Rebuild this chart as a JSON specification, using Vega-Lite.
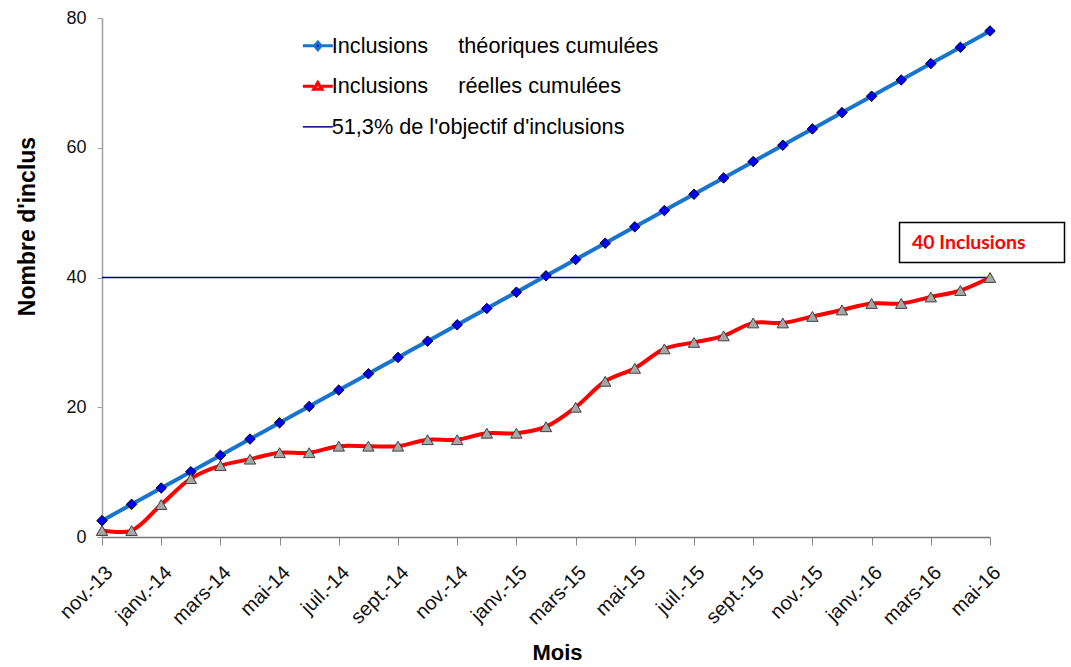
{
  "$schema": "https://vega.github.io/schema/vega-lite/v6.json",
  "width": 888,
  "height": 519,
  "autosize": {"type": "none"},
  "padding": {"left": 102, "top": 18, "right": 81, "bottom": 130},
  "background": "white",
  "config": {"view": {"stroke": null}, "font": "Liberation Sans"},
  "datasets": {
    "series": [
      {"mois": "nov.-13", "serie": "theo", "valeur": 2.52},
      {"mois": "déc.-13", "serie": "theo", "valeur": 5.03},
      {"mois": "janv.-14", "serie": "theo", "valeur": 7.55},
      {"mois": "févr.-14", "serie": "theo", "valeur": 10.06},
      {"mois": "mars-14", "serie": "theo", "valeur": 12.58},
      {"mois": "avr.-14", "serie": "theo", "valeur": 15.10},
      {"mois": "mai-14", "serie": "theo", "valeur": 17.61},
      {"mois": "juin-14", "serie": "theo", "valeur": 20.13},
      {"mois": "juil.-14", "serie": "theo", "valeur": 22.65},
      {"mois": "août-14", "serie": "theo", "valeur": 25.16},
      {"mois": "sept.-14", "serie": "theo", "valeur": 27.68},
      {"mois": "oct.-14", "serie": "theo", "valeur": 30.19},
      {"mois": "nov.-14", "serie": "theo", "valeur": 32.71},
      {"mois": "déc.-14", "serie": "theo", "valeur": 35.23},
      {"mois": "janv.-15", "serie": "theo", "valeur": 37.74},
      {"mois": "févr.-15", "serie": "theo", "valeur": 40.26},
      {"mois": "mars-15", "serie": "theo", "valeur": 42.77},
      {"mois": "avr.-15", "serie": "theo", "valeur": 45.29},
      {"mois": "mai-15", "serie": "theo", "valeur": 47.81},
      {"mois": "juin-15", "serie": "theo", "valeur": 50.32},
      {"mois": "juil.-15", "serie": "theo", "valeur": 52.84},
      {"mois": "août-15", "serie": "theo", "valeur": 55.35},
      {"mois": "sept.-15", "serie": "theo", "valeur": 57.87},
      {"mois": "oct.-15", "serie": "theo", "valeur": 60.39},
      {"mois": "nov.-15", "serie": "theo", "valeur": 62.90},
      {"mois": "déc.-15", "serie": "theo", "valeur": 65.42},
      {"mois": "janv.-16", "serie": "theo", "valeur": 67.94},
      {"mois": "févr.-16", "serie": "theo", "valeur": 70.45},
      {"mois": "mars-16", "serie": "theo", "valeur": 72.97},
      {"mois": "avr.-16", "serie": "theo", "valeur": 75.48},
      {"mois": "mai-16", "serie": "theo", "valeur": 78.0},
      {"mois": "nov.-13", "serie": "reel", "valeur": 1},
      {"mois": "déc.-13", "serie": "reel", "valeur": 1},
      {"mois": "janv.-14", "serie": "reel", "valeur": 5},
      {"mois": "févr.-14", "serie": "reel", "valeur": 9},
      {"mois": "mars-14", "serie": "reel", "valeur": 11},
      {"mois": "avr.-14", "serie": "reel", "valeur": 12},
      {"mois": "mai-14", "serie": "reel", "valeur": 13},
      {"mois": "juin-14", "serie": "reel", "valeur": 13},
      {"mois": "juil.-14", "serie": "reel", "valeur": 14},
      {"mois": "août-14", "serie": "reel", "valeur": 14},
      {"mois": "sept.-14", "serie": "reel", "valeur": 14},
      {"mois": "oct.-14", "serie": "reel", "valeur": 15},
      {"mois": "nov.-14", "serie": "reel", "valeur": 15},
      {"mois": "déc.-14", "serie": "reel", "valeur": 16},
      {"mois": "janv.-15", "serie": "reel", "valeur": 16},
      {"mois": "févr.-15", "serie": "reel", "valeur": 17},
      {"mois": "mars-15", "serie": "reel", "valeur": 20},
      {"mois": "avr.-15", "serie": "reel", "valeur": 24},
      {"mois": "mai-15", "serie": "reel", "valeur": 26},
      {"mois": "juin-15", "serie": "reel", "valeur": 29},
      {"mois": "juil.-15", "serie": "reel", "valeur": 30},
      {"mois": "août-15", "serie": "reel", "valeur": 31},
      {"mois": "sept.-15", "serie": "reel", "valeur": 33},
      {"mois": "oct.-15", "serie": "reel", "valeur": 33},
      {"mois": "nov.-15", "serie": "reel", "valeur": 34},
      {"mois": "déc.-15", "serie": "reel", "valeur": 35},
      {"mois": "janv.-16", "serie": "reel", "valeur": 36},
      {"mois": "févr.-16", "serie": "reel", "valeur": 36},
      {"mois": "mars-16", "serie": "reel", "valeur": 37},
      {"mois": "avr.-16", "serie": "reel", "valeur": 38},
      {"mois": "mai-16", "serie": "reel", "valeur": 40}
    ],
    "objectif": [
      {"serie": "obj", "valeur": 40}
    ],
    "annotation": [
      {"mois": "mai-16", "valeur": 40, "label": "40 Inclusions"}
    ]
  },
  "layer": [
    {
      "data": {"name": "objectif"},
      "mark": {"type": "rule", "strokeWidth": 1.5},
      "encoding": {
        "y": {"field": "valeur", "type": "quantitative"},
        "color": {"field": "serie", "type": "nominal"}
      }
    },
    {
      "data": {"name": "series"},
      "mark": {"type": "line", "strokeWidth": 4, "interpolate": "catmull-rom"},
      "encoding": {
        "x": {
          "field": "mois", "type": "ordinal",
          "scale": {"type": "point", "padding": 0, "domain": ["nov.-13","déc.-13","janv.-14","févr.-14","mars-14","avr.-14","mai-14","juin-14","juil.-14","août-14","sept.-14","oct.-14","nov.-14","déc.-14","janv.-15","févr.-15","mars-15","avr.-15","mai-15","juin-15","juil.-15","août-15","sept.-15","oct.-15","nov.-15","déc.-15","janv.-16","févr.-16","mars-16","avr.-16","mai-16"]},
          "axis": {
            "title": "Mois",
            "values": ["nov.-13","janv.-14","mars-14","mai-14","juil.-14","sept.-14","nov.-14","janv.-15","mars-15","mai-15","juil.-15","sept.-15","nov.-15","janv.-16","mars-16","mai-16"],
            "labelAngle": -45,
            "labelFontSize": 20,
            "labelColor": "#111111",
            "labelPadding": 17,
            "tickSize": 8,
            "tickColor": "#888888",
            "domainColor": "#777777",
            "domainWidth": 1.5,
            "grid": false,
            "titleFontSize": 22,
            "titleFontWeight": "bold",
            "titleColor": "#000000",
            "titlePadding": 14,
            "titleX": 455
          }
        },
        "y": {
          "field": "valeur", "type": "quantitative",
          "scale": {"domain": [0, 80], "nice": false},
          "axis": {
            "title": "Nombre d'inclus",
            "values": [0, 20, 40, 60, 80],
            "labelFontSize": 18,
            "labelColor": "#111111",
            "labelPadding": 11,
            "tickSize": 5,
            "tickColor": "#a0a0a0",
            "domainColor": "#a0a0a0",
            "domainWidth": 1.5,
            "grid": false,
            "titleFontSize": 23,
            "titleFontWeight": "bold",
            "titleColor": "#000000",
            "titlePadding": 26,
            "titleY": 208
          }
        },
        "color": {
          "field": "serie", "type": "nominal",
          "scale": {
            "domain": ["theo", "reel", "obj"],
            "range": ["#1874CD", "#FF0000", "#000080"]
          },
          "legend": {
            "title": null,
            "orient": "none",
            "legendX": 205,
            "legendY": 17,
            "labelExpr": "datum.value === 'theo' ? 'Inclusions\u00a0\u00a0\u00a0\u00a0\u00a0théoriques cumulées' : datum.value === 'reel' ? 'Inclusions\u00a0\u00a0\u00a0\u00a0\u00a0réelles cumulées' : '51,3% de l\\'objectif d\\'inclusions'",
            "labelFontSize": 21.7,
            "labelColor": "#000000",
            "labelFont": "Liberation Sans",
            "labelLimit": 600,
            "labelOffset": 3,
            "symbolType": "stroke",
            "symbolSize": 900,
            "symbolStrokeWidth": 3,
            "rowPadding": 17.5,
            "encode": {
              "symbols": {
                "update": {
                  "shape": {"signal": "datum.value === 'theo' ? 'M-1,0H-0.22M0.22,0H1M0,-0.26L0.22,0L0,0.26L-0.22,0Z' : datum.value === 'reel' ? 'M-1,0H-0.26M0.26,0H1M0,-0.26L0.28,0.2H-0.28Z' : 'M-1,0H1'"},
                  "fill": {"signal": "datum.value === 'theo' ? '#0000DD' : datum.value === 'reel' ? '#A6A6A6' : 'transparent'"},
                  "strokeWidth": {"signal": "datum.value === 'obj' ? 1.5 : 3"}
                }
              }
            }
          }
        }
      }
    },
    {
      "data": {"name": "series"},
      "transform": [{"filter": "datum.serie === 'theo'"}],
      "mark": {"type": "point", "shape": "diamond", "filled": true, "fill": "#0000FF", "stroke": "#000000", "strokeWidth": 1, "size": 110, "opacity": 1},
      "encoding": {
        "x": {"field": "mois", "type": "ordinal"},
        "y": {"field": "valeur", "type": "quantitative"}
      }
    },
    {
      "data": {"name": "series"},
      "transform": [{"filter": "datum.serie === 'reel'"}],
      "mark": {"type": "point", "shape": "triangle-up", "filled": true, "fill": "#A6A6A6", "stroke": "#404040", "strokeWidth": 1, "size": 130, "opacity": 1},
      "encoding": {
        "x": {"field": "mois", "type": "ordinal"},
        "y": {"field": "valeur", "type": "quantitative"}
      }
    },
    {
      "data": {"name": "annotation"},
      "mark": {"type": "point", "shape": "M-1,-0.2424H1V0.2424H-1Z", "size": 27225, "filled": true, "fill": "white", "stroke": "#000000", "strokeWidth": 1.5, "opacity": 1, "xOffset": -8, "yOffset": -35},
      "encoding": {
        "x": {"field": "mois", "type": "ordinal"},
        "y": {"field": "valeur", "type": "quantitative"}
      }
    },
    {
      "data": {"name": "annotation"},
      "mark": {"type": "text", "align": "left", "baseline": "middle", "dx": -78, "dy": -35, "font": "Lato", "fontWeight": "bold", "fontSize": 19.5, "color": "#FF0000"},
      "encoding": {
        "x": {"field": "mois", "type": "ordinal"},
        "y": {"field": "valeur", "type": "quantitative"},
        "text": {"field": "label"}
      }
    }
  ]
}
